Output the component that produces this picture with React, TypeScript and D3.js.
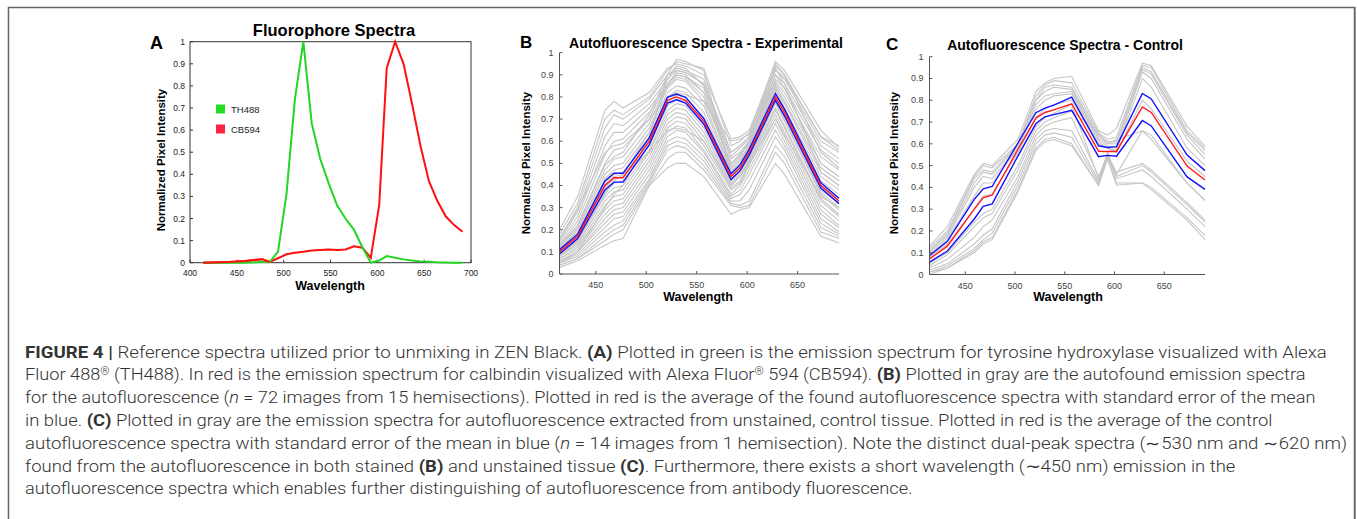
import React, { useLayoutEffect, useRef, useState } from 'react';
import * as d3 from 'd3';

// ---------- Panel A data ----------
const WL_A = [414, 423, 432, 441, 450, 459, 468, 477, 485, 494, 503, 512, 521, 530, 539, 548, 557, 566, 575, 584, 593, 602, 610, 619, 628, 637, 646, 655, 664, 673, 682, 691];
const TH488 = [0, 0, 0, 0, 0, 0, 0.002, 0.003, 0.003, 0.05, 0.31, 0.74, 1.0, 0.63, 0.47, 0.36, 0.26, 0.2, 0.15, 0.07, 0.0, 0.01, 0.03, 0.022, 0.015, 0.01, 0.006, 0.004, 0.002, 0.001, 0, 0];
const CB594 = [0, 0.001, 0.002, 0.003, 0.005, 0.008, 0.012, 0.016, 0.003, 0.02, 0.038, 0.045, 0.05, 0.055, 0.058, 0.06, 0.058, 0.06, 0.074, 0.068, 0.022, 0.26, 0.88, 1.0, 0.9, 0.72, 0.53, 0.37, 0.28, 0.21, 0.17, 0.14];
const A_X_TICKS = [400, 450, 500, 550, 600, 650, 700];
const Y_TICKS = [0, 0.1, 0.2, 0.3, 0.4, 0.5, 0.6, 0.7, 0.8, 0.9, 1];
const LEGEND_A = ['TH488', 'CB594'];

// ---------- Panels B / C data ----------
const WL_BC = [414, 432, 459, 468, 477, 503, 521, 530, 539, 557, 584, 593, 602, 628, 637, 673, 691];
const BC_X_TICKS = [450, 500, 550, 600, 650];

const MEAN_B = [0.1, 0.17, 0.4, 0.435, 0.435, 0.6, 0.785, 0.8, 0.785, 0.69, 0.44, 0.48, 0.55, 0.8, 0.73, 0.4, 0.33];
const SEM_B = [0.01, 0.01, 0.02, 0.02, 0.02, 0.015, 0.013, 0.013, 0.013, 0.013, 0.013, 0.013, 0.013, 0.015, 0.015, 0.012, 0.012];
const GRAY_B = [
  [0.2, 0.35, 0.74, 0.78, 0.75, 0.82, 0.93, 0.95, 0.94, 0.9, 0.61, 0.62, 0.65, 0.94, 0.9, 0.62, 0.58],
  [0.18, 0.32, 0.7, 0.74, 0.72, 0.8, 0.92, 0.96, 0.95, 0.93, 0.58, 0.6, 0.64, 0.96, 0.92, 0.65, 0.57],
  [0.16, 0.3, 0.66, 0.72, 0.7, 0.79, 0.9, 0.93, 0.92, 0.88, 0.55, 0.58, 0.62, 0.92, 0.88, 0.6, 0.55],
  [0.15, 0.28, 0.62, 0.68, 0.67, 0.77, 0.88, 0.92, 0.91, 0.86, 0.53, 0.57, 0.61, 0.9, 0.86, 0.58, 0.52],
  [0.14, 0.26, 0.58, 0.64, 0.64, 0.75, 0.86, 0.9, 0.89, 0.84, 0.52, 0.55, 0.6, 0.88, 0.84, 0.56, 0.5],
  [0.13, 0.24, 0.54, 0.6, 0.61, 0.73, 0.85, 0.89, 0.88, 0.8, 0.5, 0.54, 0.59, 0.87, 0.82, 0.53, 0.47],
  [0.13, 0.22, 0.5, 0.56, 0.57, 0.7, 0.88, 0.94, 0.93, 0.85, 0.49, 0.53, 0.6, 0.86, 0.8, 0.5, 0.44],
  [0.12, 0.21, 0.47, 0.52, 0.53, 0.68, 0.86, 0.91, 0.9, 0.82, 0.48, 0.52, 0.58, 0.85, 0.78, 0.48, 0.42],
  [0.11, 0.2, 0.45, 0.49, 0.5, 0.66, 0.84, 0.88, 0.87, 0.78, 0.47, 0.51, 0.57, 0.84, 0.77, 0.46, 0.4],
  [0.11, 0.19, 0.43, 0.47, 0.48, 0.64, 0.82, 0.85, 0.84, 0.76, 0.46, 0.5, 0.56, 0.83, 0.75, 0.44, 0.38],
  [0.1, 0.18, 0.41, 0.45, 0.46, 0.62, 0.8, 0.83, 0.82, 0.73, 0.45, 0.49, 0.55, 0.82, 0.74, 0.42, 0.36],
  [0.1, 0.17, 0.39, 0.43, 0.44, 0.6, 0.78, 0.81, 0.8, 0.7, 0.44, 0.48, 0.55, 0.8, 0.72, 0.4, 0.34],
  [0.09, 0.16, 0.37, 0.41, 0.42, 0.58, 0.76, 0.79, 0.78, 0.68, 0.43, 0.47, 0.54, 0.79, 0.71, 0.38, 0.32],
  [0.09, 0.15, 0.35, 0.39, 0.4, 0.56, 0.74, 0.77, 0.76, 0.66, 0.42, 0.46, 0.53, 0.78, 0.7, 0.37, 0.3],
  [0.08, 0.14, 0.33, 0.37, 0.38, 0.55, 0.72, 0.75, 0.74, 0.64, 0.41, 0.45, 0.52, 0.77, 0.69, 0.36, 0.29],
  [0.08, 0.13, 0.31, 0.35, 0.36, 0.53, 0.7, 0.73, 0.72, 0.62, 0.4, 0.44, 0.51, 0.75, 0.67, 0.34, 0.27],
  [0.07, 0.12, 0.29, 0.33, 0.34, 0.51, 0.68, 0.71, 0.7, 0.6, 0.39, 0.42, 0.5, 0.74, 0.66, 0.33, 0.26],
  [0.07, 0.11, 0.27, 0.31, 0.32, 0.49, 0.66, 0.69, 0.68, 0.58, 0.38, 0.41, 0.49, 0.72, 0.64, 0.31, 0.24],
  [0.06, 0.1, 0.25, 0.29, 0.3, 0.47, 0.64, 0.67, 0.66, 0.56, 0.36, 0.4, 0.47, 0.7, 0.62, 0.29, 0.22],
  [0.06, 0.1, 0.23, 0.27, 0.28, 0.45, 0.62, 0.65, 0.64, 0.55, 0.35, 0.38, 0.45, 0.68, 0.6, 0.27, 0.21],
  [0.05, 0.09, 0.21, 0.25, 0.26, 0.43, 0.6, 0.62, 0.61, 0.53, 0.34, 0.36, 0.42, 0.65, 0.58, 0.25, 0.19],
  [0.05, 0.08, 0.19, 0.22, 0.24, 0.42, 0.58, 0.6, 0.59, 0.51, 0.33, 0.33, 0.38, 0.62, 0.56, 0.23, 0.18],
  [0.04, 0.07, 0.17, 0.2, 0.22, 0.41, 0.56, 0.58, 0.57, 0.49, 0.32, 0.31, 0.33, 0.58, 0.53, 0.21, 0.17],
  [0.04, 0.07, 0.15, 0.18, 0.2, 0.4, 0.52, 0.55, 0.55, 0.47, 0.31, 0.3, 0.31, 0.55, 0.5, 0.19, 0.16],
  [0.03, 0.06, 0.13, 0.15, 0.16, 0.4, 0.48, 0.5, 0.5, 0.44, 0.27, 0.29, 0.3, 0.5, 0.45, 0.17, 0.14],
  [0.16, 0.29, 0.55, 0.58, 0.59, 0.7, 0.8, 0.82, 0.81, 0.78, 0.6, 0.61, 0.63, 0.92, 0.89, 0.62, 0.56],
  [0.05, 0.1, 0.3, 0.36, 0.4, 0.62, 0.9, 0.97, 0.96, 0.92, 0.45, 0.5, 0.58, 0.93, 0.86, 0.46, 0.4],
  [0.12, 0.22, 0.49, 0.53, 0.55, 0.72, 0.9, 0.92, 0.91, 0.86, 0.55, 0.58, 0.62, 0.95, 0.9, 0.55, 0.48],
  [0.08, 0.15, 0.36, 0.42, 0.45, 0.64, 0.86, 0.9, 0.89, 0.82, 0.5, 0.54, 0.59, 0.9, 0.84, 0.5, 0.44],
  [0.1, 0.18, 0.4, 0.44, 0.45, 0.55, 0.65, 0.66, 0.65, 0.6, 0.4, 0.44, 0.5, 0.7, 0.63, 0.35, 0.3],
];

const MEAN_C = [0.072, 0.13, 0.3, 0.353, 0.364, 0.575, 0.718, 0.744, 0.756, 0.784, 0.566, 0.565, 0.565, 0.769, 0.744, 0.498, 0.434];
const SEM_C = [0.015, 0.022, 0.045, 0.04, 0.04, 0.03, 0.025, 0.02, 0.022, 0.03, 0.025, 0.018, 0.022, 0.062, 0.062, 0.05, 0.043];
const GRAY_C = [
  [0.13, 0.22, 0.46, 0.51, 0.5, 0.62, 0.84, 0.88, 0.9, 0.91, 0.66, 0.64, 0.67, 0.97, 0.96, 0.68, 0.59],
  [0.12, 0.2, 0.45, 0.5, 0.49, 0.6, 0.82, 0.87, 0.89, 0.88, 0.65, 0.62, 0.63, 0.96, 0.95, 0.66, 0.58],
  [0.11, 0.19, 0.44, 0.48, 0.47, 0.6, 0.8, 0.86, 0.87, 0.86, 0.64, 0.61, 0.61, 0.95, 0.93, 0.65, 0.57],
  [0.11, 0.18, 0.42, 0.47, 0.46, 0.59, 0.8, 0.84, 0.86, 0.85, 0.63, 0.6, 0.6, 0.94, 0.92, 0.64, 0.55],
  [0.1, 0.17, 0.4, 0.45, 0.44, 0.58, 0.78, 0.82, 0.83, 0.84, 0.62, 0.59, 0.58, 0.93, 0.9, 0.62, 0.53],
  [0.09, 0.16, 0.36, 0.42, 0.42, 0.58, 0.76, 0.8, 0.82, 0.83, 0.61, 0.58, 0.57, 0.9, 0.86, 0.58, 0.5],
  [0.08, 0.14, 0.3, 0.36, 0.37, 0.56, 0.72, 0.76, 0.78, 0.8, 0.6, 0.58, 0.56, 0.8, 0.76, 0.52, 0.45],
  [0.05, 0.1, 0.24, 0.28, 0.3, 0.5, 0.68, 0.72, 0.74, 0.78, 0.44, 0.54, 0.46, 0.66, 0.62, 0.42, 0.34],
  [0.03, 0.07, 0.17, 0.22, 0.25, 0.45, 0.64, 0.68, 0.7, 0.72, 0.45, 0.55, 0.47, 0.51, 0.48, 0.33, 0.25],
  [0.02, 0.05, 0.14, 0.18, 0.21, 0.43, 0.62, 0.66, 0.67, 0.66, 0.43, 0.56, 0.45, 0.5, 0.47, 0.32, 0.24],
  [0.01, 0.04, 0.12, 0.16, 0.19, 0.41, 0.6, 0.64, 0.65, 0.63, 0.42, 0.55, 0.44, 0.48, 0.45, 0.3, 0.22],
  [0.01, 0.03, 0.11, 0.15, 0.17, 0.39, 0.58, 0.62, 0.63, 0.6, 0.41, 0.54, 0.42, 0.42, 0.4, 0.26, 0.18],
  [0.0, 0.03, 0.1, 0.14, 0.16, 0.38, 0.57, 0.61, 0.62, 0.59, 0.41, 0.53, 0.41, 0.42, 0.39, 0.25, 0.16],
  [0.04, 0.09, 0.22, 0.26, 0.28, 0.48, 0.66, 0.7, 0.72, 0.75, 0.65, 0.6, 0.62, 0.66, 0.64, 0.42, 0.34],
];

const TITLES = ['Fluorophore Spectra', 'Autofluorescence Spectra - Experimental', 'Autofluorescence Spectra - Control'];
const PANEL_LETTERS = ['A', 'B', 'C'];
const X_LABEL = 'Wavelength';
const Y_LABEL = 'Normalized Pixel Intensity';

type Seg = { t: string; b?: boolean; i?: boolean; sup?: boolean };
const CAPTION: Seg[][] = [
  [{ t: 'FIGURE 4 |', b: true }, { t: ' Reference spectra utilized prior to unmixing in ZEN Black. ' }, { t: '(A)', b: true }, { t: ' Plotted in green is the emission spectrum for tyrosine hydroxylase visualized with Alexa' }],
  [{ t: 'Fluor 488' }, { t: '®', sup: true }, { t: ' (TH488). In red is the emission spectrum for calbindin visualized with Alexa Fluor' }, { t: '®', sup: true }, { t: ' 594 (CB594). ' }, { t: '(B)', b: true }, { t: ' Plotted in gray are the autofound emission spectra' }],
  [{ t: 'for the autofluorescence (' }, { t: 'n', i: true }, { t: ' = 72 images from 15 hemisections). Plotted in red is the average of the found autofluorescence spectra with standard error of the mean' }],
  [{ t: 'in blue. ' }, { t: '(C)', b: true }, { t: ' Plotted in gray are the emission spectra for autofluorescence extracted from unstained, control tissue. Plotted in red is the average of the control' }],
  [{ t: 'autofluorescence spectra with standard error of the mean in blue (' }, { t: 'n', i: true }, { t: ' = 14 images from 1 hemisection). Note the distinct dual-peak spectra (\u223C530 nm and \u223C620 nm)' }],
  [{ t: 'found from the autofluorescence in both stained ' }, { t: '(B)', b: true }, { t: ' and unstained tissue ' }, { t: '(C)', b: true }, { t: '. Furthermore, there exists a short wavelength (\u223C450 nm) emission in the' }],
  [{ t: 'autofluorescence spectra which enables further distinguishing of autofluorescence from antibody fluorescence.' }],
];
// where a given word of each caption line sits in the reference (its right end, px)
const CAPTION_ANCHOR_TEXT = ['(A) Plotted in', 'visualized with Alex', 'Plotted in red is the', 'autofluorescence extracted', '= 14 images', 'tissue (C). Fur', 'distinguishing of autofluorescence'];
const CAPTION_ANCHOR_X = [695, 700, 687, 685, 675, 681, 685];
const CAPTION_X = 25;

const SANS = '"Liberation Sans", Arial, Helvetica, sans-serif';
const fmt = (v: number) => String(Math.round(v * 10) / 10);

function PanelA() {
  const x = d3.scaleLinear().domain([400, 700]).range([190, 471]);
  const y = d3.scaleLinear().domain([0, 1]).range([262.7, 41.7]);
  const line = d3.line<number>().x((_, i) => x(WL_A[i])).y((d) => y(d));
  const [x0, x1] = x.range();
  const [yb, yt] = y.range();
  return (
    <g>
      <rect x={x0} y={yt} width={x1 - x0} height={yb - yt} fill="none" stroke="#333" strokeWidth={1} />
      {A_X_TICKS.map((t) => (
        <g key={t}>
          <line x1={x(t)} x2={x(t)} y1={yb} y2={yb - 3} stroke="#333" />
          <text x={x(t)} y={276} fontSize={8.5} textAnchor="middle" fill="#222" fontFamily={SANS}>{t}</text>
        </g>
      ))}
      {Y_TICKS.map((t) => (
        <g key={t}>
          <line x1={x0} x2={x0 + 3} y1={y(t)} y2={y(t)} stroke="#333" />
          <text x={x0 - 5} y={y(t) + 3} fontSize={8.5} textAnchor="end" fill="#222" fontFamily={SANS}>{fmt(t)}</text>
        </g>
      ))}
      <path d={line(CB594) || ''} fill="none" stroke="#ff1010" strokeWidth={2} />
      <path d={line(TH488) || ''} fill="none" stroke="#22d622" strokeWidth={2} />
      <path d={line(CB594.slice(0, 9)) || ''} fill="none" stroke="#ff1010" strokeWidth={2} />
      {LEGEND_A.map((l, i) => (
        <g key={l}>
          <rect x={216} y={104.5 + i * 20} width={9} height={9} fill={i === 0 ? '#22dd22' : '#ff2244'} />
          <text x={231} y={112.5 + i * 20} fontSize={9.5} fill="#222" fontFamily={SANS}>{l}</text>
        </g>
      ))}
      <text x={334} y={36} fontSize={16.5} fontWeight="bold" textAnchor="middle" fontFamily={SANS}>{TITLES[0]}</text>
      <text x={150} y={49} fontSize={18} fontWeight="bold" fontFamily={SANS}>{PANEL_LETTERS[0]}</text>
      <text x={330} y={290} fontSize={12.5} fontWeight="bold" textAnchor="middle" fontFamily={SANS}>{X_LABEL}</text>
      <text transform="translate(165,160) rotate(-90)" fontSize={11.5} fontWeight="bold" textAnchor="middle" fontFamily={SANS}>{Y_LABEL}</text>
    </g>
  );
}

function SpectraPanel(p: {
  xr: [number, number]; yr: [number, number]; gray: number[][]; mean: number[]; sem: number[];
  title: string; titleX: number; titleY: number; letter: string; letterX: number; letterY: number;
  ylabX: number; xlabX: number;
}) {
  const x = d3.scaleLinear().domain([WL_BC[0], WL_BC[WL_BC.length - 1]]).range(p.xr);
  const y = d3.scaleLinear().domain([0, 1]).range(p.yr);
  const line = d3.line<number>().x((_, i) => x(WL_BC[i])).y((d) => y(d));
  const [x0, x1] = p.xr;
  const [yb, yt] = p.yr;
  const upper = p.mean.map((m, i) => m + p.sem[i]);
  const lower = p.mean.map((m, i) => m - p.sem[i]);
  return (
    <g>
      {p.gray.map((g, i) => (
        <path key={i} d={line(g) || ''} fill="none" stroke="#c6c6c6" strokeWidth={1.1} />
      ))}
      <path d={line(upper) || ''} fill="none" stroke="#1010ff" strokeWidth={1.4} />
      <path d={line(lower) || ''} fill="none" stroke="#1010ff" strokeWidth={1.4} />
      <path d={line(p.mean) || ''} fill="none" stroke="#ff1a1a" strokeWidth={1.4} />
      <line x1={x0} x2={x0} y1={yb} y2={yt} stroke="#555" strokeWidth={1} />
      <line x1={x0} x2={x1} y1={yb} y2={yb} stroke="#555" strokeWidth={1} />
      {BC_X_TICKS.map((t) => (
        <g key={t}>
          <line x1={x(t)} x2={x(t)} y1={yb} y2={yb - 3} stroke="#555" />
          <text x={x(t)} y={yb + 14} fontSize={9} textAnchor="middle" fill="#444" fontFamily={SANS}>{t}</text>
        </g>
      ))}
      {Y_TICKS.map((t) => (
        <g key={t}>
          <line x1={x0} x2={x0 + 3} y1={y(t)} y2={y(t)} stroke="#555" />
          <text x={x0 - 6} y={y(t) + 3} fontSize={9} textAnchor="end" fill="#444" fontFamily={SANS}>{fmt(t)}</text>
        </g>
      ))}
      <text x={p.titleX} y={p.titleY} fontSize={14} fontWeight="bold" textAnchor="middle" fontFamily={SANS}>{p.title}</text>
      <text x={p.letterX} y={p.letterY} fontSize={17} fontWeight="bold" fontFamily={SANS}>{p.letter}</text>
      <text x={p.xlabX} y={301} fontSize={12.5} fontWeight="bold" textAnchor="middle" fontFamily={SANS}>{X_LABEL}</text>
      <text transform={`translate(${p.ylabX},163) rotate(-90)`} fontSize={11.5} fontWeight="bold" textAnchor="middle" fontFamily={SANS}>{Y_LABEL}</text>
    </g>
  );
}

function Caption() {
  const refs = useRef<(SVGTextElement | null)[]>([]);
  const [ks, setKs] = useState<number[]>(CAPTION.map(() => 1));
  useLayoutEffect(() => {
    const next = CAPTION.map((segs, li) => {
      const el = refs.current[li];
      if (!el) return 1;
      const full = segs.map((s) => s.t).join('');
      const a = CAPTION_ANCHOR_TEXT[li];
      const idx = full.indexOf(a);
      if (idx < 0) return 1;
      try {
        const w = el.getSubStringLength(0, idx + a.length);
        return w > 0 ? (CAPTION_ANCHOR_X[li] - CAPTION_X) / w : 1;
      } catch (e) {
        return 1;
      }
    });
    setKs(next);
  }, []);
  return (
    <g fontFamily='Roboto, "Liberation Sans", Arial, sans-serif' fontSize={16.5} fill="#333" fontWeight={300}>
      {CAPTION.map((segs, li) => (
        <text key={li} ref={(el) => { refs.current[li] = el; }} x={0} y={0}
          transform={`translate(${CAPTION_X},${357.5 + li * 22.8}) scale(${ks[li]},1)`}>
          {segs.map((s, si) => (
            <tspan key={si} fontWeight={s.b ? 700 : undefined} fontStyle={s.i ? 'italic' : undefined}
              fontSize={s.sup ? 10.5 : undefined} baselineShift={s.sup ? '55%' : undefined}>{s.t}</tspan>
          ))}
        </text>
      ))}
    </g>
  );
}

export default function App() {
  return (
    <svg width={1357} height={519} style={{ position: 'absolute', left: 0, top: 0, background: '#fff' }}>
      <rect x={0} y={0} width={1357} height={519} fill="#fff" />
      <path d="M8.5,519 V7.5 H1354.5 V519" fill="none" stroke="#666" strokeWidth={1.5} />
      <line x1={1355.5} x2={1355.5} y1={7} y2={519} stroke="#999" strokeWidth={1} />
      <PanelA />
      <SpectraPanel xr={[559.5, 839]} yr={[274, 52.7]} gray={GRAY_B} mean={MEAN_B} sem={SEM_B}
        title={TITLES[1]} titleX={706} titleY={47.5} letter={PANEL_LETTERS[1]} letterX={520} letterY={48}
        ylabX={530} xlabX={698} />
      <SpectraPanel xr={[929.5, 1205]} yr={[274.5, 56.7]} gray={GRAY_C} mean={MEAN_C} sem={SEM_C}
        title={TITLES[2]} titleX={1065} titleY={49.5} letter={PANEL_LETTERS[2]} letterX={886} letterY={50}
        ylabX={898} xlabX={1068} />
      <Caption />
    </svg>
  );
}
